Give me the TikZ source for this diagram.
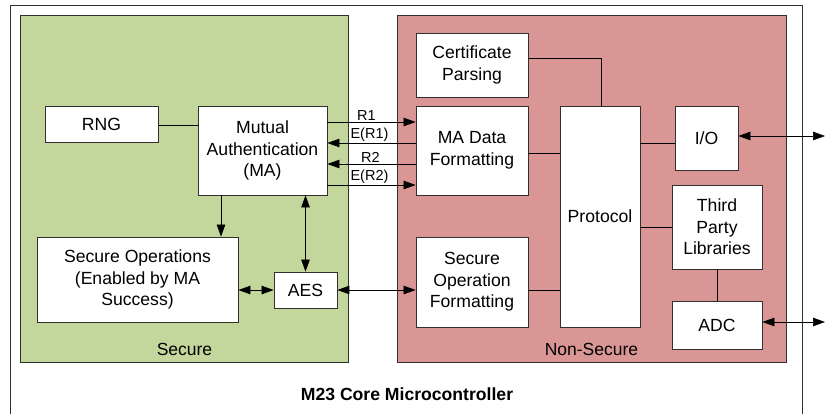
\documentclass[tikz,border=0pt]{standalone}
\usepackage{fontspec}
\setmainfont{Liberation Sans}
\usetikzlibrary{arrows.meta}
\definecolor{securegreen}{HTML}{C3D69B}
\definecolor{nonsecpink}{HTML}{D99694}
\definecolor{edge}{HTML}{303030}
\tikzset{
  box/.style={draw=edge, fill=white, line width=0.8pt, inner sep=0pt, align=center,
    font=\fontsize{17.6}{21.5}\selectfont},
  zone/.style={draw=edge, line width=0.8pt},
  link/.style={draw=black, line width=0.7pt},
  arr/.style={link, -{Triangle[length=12pt,width=8.5pt]}},
  biarr/.style={link, {Triangle[length=12pt,width=8.5pt]}-{Triangle[length=12pt,width=8.5pt]}},
  sig/.style={font=\fontsize{14.5}{16}\selectfont, inner sep=1pt},
}
\begin{document}
\begin{tikzpicture}[x=1pt,y=-1pt]
\useasboundingbox (0,0) rectangle (826,414);
% chip outline, open at the bottom
\draw[edge, line width=0.8pt] (10,420) -- (10,5) -- (802,5) -- (802,420);
% secure / non-secure worlds
\draw[zone, fill=securegreen] (20,15) rectangle (348,362);
\draw[zone, fill=nonsecpink] (397,15) rectangle (786,362);
\node[font=\fontsize{17.5}{19}\selectfont] (seclbl) at (184.5,349) {Secure};
\node[font=\fontsize{17.5}{19}\selectfont] (nslbl) at (591.5,349) {Non-Secure};
\node[font=\bfseries\fontsize{17.6}{19}\selectfont] (title) at (407,394) {M23 Core Microcontroller};

% blocks
\node[box, minimum width=113, minimum height=36] (rng) at (101.5,124) {RNG};
\node[box, minimum width=129, minimum height=89] (ma) at (262.5,150.5) {Mutual\\Authentication\\(MA)};
\node[box, minimum width=201, minimum height=85] (secops) at (137.5,279.5) {Secure Operations\\(Enabled by MA\\Success)};
\node[box, minimum width=63, minimum height=36] (aes) at (305.5,290) {AES};
\node[box, minimum width=112, minimum height=64] (cert) at (472,65) {Certificate\\Parsing};
\node[box, minimum width=112, minimum height=89] (madf) at (472,150.5) {MA Data\\Formatting};
\node[box, minimum width=112, minimum height=90] (sof) at (472,282) {Secure\\Operation\\Formatting};
\node[box, minimum width=80, minimum height=221] (proto) at (600,216.5) {Protocol};
\node[box, minimum width=63, minimum height=64] (io) at (706.5,138) {I/O};
\node[box, minimum width=90, minimum height=84] (third) at (717,227) {Third\\Party\\Libraries};
\node[box, minimum width=90, minimum height=48] (adc) at (717,325) {ADC};

% reference heights and columns for connectors
\coordinate (yrng) at (0,125);
\coordinate (yR1) at (0,122);
\coordinate (yER1) at (0,143);
\coordinate (yR2) at (0,164);
\coordinate (yER2) at (0,185);
\coordinate (ycert) at (0,58);
\coordinate (ymadf) at (0,153);
\coordinate (yio) at (0,143);
\coordinate (yioext) at (0,136);
\coordinate (yadcext) at (0,322);
\coordinate (yaes) at (0,290);
\coordinate (xsec) at (221,0);
\coordinate (xcert) at (601,0);
\coordinate (ext1) at (825,136);
\coordinate (ext2) at (825,322);

% secure side
\draw[link] (rng.east |- yrng) -- (ma.west |- yrng);
\draw[arr] (ma.south -| xsec) -- (secops.north -| xsec);
\draw[biarr] (ma.south -| aes) -- (aes.north);
\draw[biarr] (secops.east |- yaes) -- (aes.west);
\draw[biarr] (aes.east) -- (sof.west |- yaes);

% mutual authentication exchange
\draw[arr] (ma.east |- yR1) -- (madf.west |- yR1) node[sig, midway, above, xshift=-5pt] {R1};
\draw[arr] (madf.west |- yER1) -- (ma.east |- yER1) node[sig, midway, above, xshift=-2pt] {E(R1)};
\draw[arr] (madf.west |- yR2) -- (ma.east |- yR2) node[sig, midway, above, xshift=-1pt] {R2};
\draw[arr] (ma.east |- yER2) -- (madf.west |- yER2) node[sig, midway, above, xshift=-2pt] {E(R2)};

% non-secure side
\draw[link] (cert.east |- ycert) -| (proto.north -| xcert);
\draw[link] (madf.east |- ymadf) -- (proto.west |- ymadf);
\draw[link] (sof.east |- yaes) -- (proto.west |- yaes);
\draw[link] (proto.east |- yio) -- (io.west |- yio);
\draw[link] (proto.east |- third) -- (third.west);
\draw[link] (third.south) -- (adc.north);
\draw[biarr] (io.east |- yioext) -- (ext1);
\draw[biarr] (adc.east |- yadcext) -- (ext2);
\end{tikzpicture}
\end{document}
